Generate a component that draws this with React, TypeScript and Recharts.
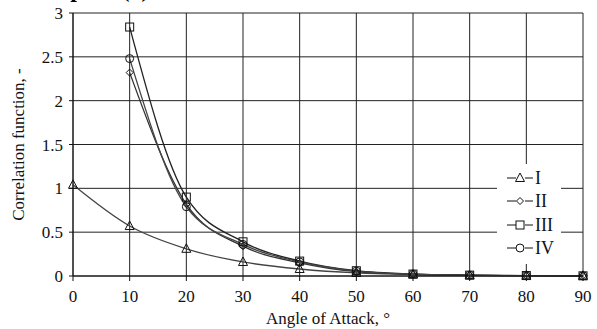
import React from 'react';
import {
  LineChart, Line, XAxis, YAxis, CartesianGrid,
} from 'recharts';

// angle of attack (deg)
const angles = [0, 10, 20, 30, 40, 50, 60, 70, 80, 90];
const seriesI = [1.04, 0.57, 0.31, 0.16, 0.08, 0.035, 0.017, 0.008, 0.004, 0.002];
const seriesII = [null, 2.32, 0.82, 0.34, 0.15, 0.05, 0.02, 0.008, 0.004, 0.002];
const seriesIII = [null, 2.84, 0.9, 0.39, 0.17, 0.06, 0.022, 0.01, 0.005, 0.002];
const seriesIV = [null, 2.48, 0.79, 0.36, 0.16, 0.055, 0.02, 0.009, 0.004, 0.002];
const seriesNames = ['I', 'II', 'III', 'IV'];
const xTicks = [0, 10, 20, 30, 40, 50, 60, 70, 80, 90];
const yTicks = [0, 0.5, 1, 1.5, 2, 2.5, 3];

const data = angles.map((a, i) => ({
  angle: a,
  I: seriesI[i],
  II: seriesII[i],
  III: seriesIII[i],
  IV: seriesIV[i],
}));

const FONT = '"Liberation Serif", "Times New Roman", serif';
type Shape = 'triangle' | 'diamond' | 'square' | 'circle';
const shapes: Shape[] = ['triangle', 'diamond', 'square', 'circle'];
const lineColors = ['#444', '#333', '#222', '#444'];

const Marker = ({ shape, cx, cy }: { shape: Shape; cx: number; cy: number }) => {
  const common = { fill: 'none', stroke: '#111', strokeWidth: 1 };
  if (shape === 'triangle')
    return <polygon points={`${cx},${cy - 5} ${cx - 4.5},${cy + 3.5} ${cx + 4.5},${cy + 3.5}`} {...common} />;
  if (shape === 'diamond')
    return <polygon points={`${cx},${cy - 3.5} ${cx + 3.5},${cy} ${cx},${cy + 3.5} ${cx - 3.5},${cy}`} {...common} />;
  if (shape === 'square')
    return <rect x={cx - 4} y={cy - 4} width={8} height={8} {...common} />;
  return <circle cx={cx} cy={cy} r={4} {...common} />;
};

const makeDot = (shape: Shape) => (props: any) => {
  const { cx, cy, value, index } = props;
  if (value == null || cx == null || cy == null) return <g key={index} />;
  return <g key={index}><Marker shape={shape} cx={cx} cy={cy} /></g>;
};

const tickStyle = { fontFamily: FONT, fontSize: 17, fill: '#111', style: { fontFamily: FONT } };

// legend drawn as an overlay box, like the white box in the original
const LegendBox = () => (
  <div style={{ position: 'absolute', left: 497, top: 164, background: '#fff', width: 64, height: 98, paddingTop: 2 }}>
    {seriesNames.map((n, i) => (
      <div key={n} style={{ display: 'flex', alignItems: 'center', height: 23.5 }}>
        <svg width={28} height={14} style={{ marginLeft: 10 }}>
          <line x1={0} y1={7} x2={26} y2={7} stroke="#111" strokeWidth={1} />
          <rect x={9} y={1} width={9} height={12} fill="#fff" />
          <Marker shape={shapes[i]} cx={13} cy={7} />
        </svg>
        <span style={{ fontFamily: FONT, fontSize: 18, color: '#111', lineHeight: 1 }}>{n}</span>
      </div>
    ))}
  </div>
);

export default function App() {
  return (
    <div style={{ position: 'absolute', left: 0, top: 0, width: 597, height: 329, overflow: 'hidden', background: '#fff', fontFamily: FONT }}>
      <LineChart width={597} height={329} data={data} margin={{ top: 13, right: 14, left: 0, bottom: 0 }} style={{ fontFamily: FONT }}>
        <CartesianGrid stroke="#222" strokeWidth={1} horizontalValues={yTicks} verticalValues={xTicks} />
        <XAxis
          dataKey="angle"
          type="number"
          domain={[0, 90]}
          ticks={xTicks}
          height={53}
          axisLine={{ stroke: '#111' }}
          tickLine={{ stroke: '#111' }}
          tickSize={5}
          tickMargin={9}
          tick={tickStyle}
          label={{ value: 'Angle of Attack, °', position: 'insideBottom', offset: 5, style: { fontFamily: FONT, fontSize: 17, fill: '#111' } }}
        />
        <YAxis
          type="number"
          domain={[0, 3]}
          ticks={yTicks}
          width={73}
          axisLine={{ stroke: '#111' }}
          tickLine={{ stroke: '#111' }}
          tickSize={4}
          tickMargin={6}
          tick={tickStyle}
          label={{ value: 'Correlation function, -', angle: -90, position: 'insideLeft', offset: 18, style: { fontFamily: FONT, fontSize: 17, fill: '#111', textAnchor: 'middle' } }}
        />
        {seriesNames.map((n, i) => (
          <Line
            key={n}
            dataKey={n}
            type="monotone"
            stroke={lineColors[i]}
            strokeWidth={1.3}
            dot={makeDot(shapes[i])}
            activeDot={false}
            isAnimationActive={false}
          />
        ))}
      </LineChart>
      <LegendBox />
      <div style={{ position: 'absolute', left: 16, top: -24, fontFamily: FONT, fontWeight: 'bold', fontSize: 24, color: '#000', lineHeight: 'normal', wordSpacing: 32, whiteSpace: 'pre' }}>
        Group (a)
      </div>
    </div>
  );
}
